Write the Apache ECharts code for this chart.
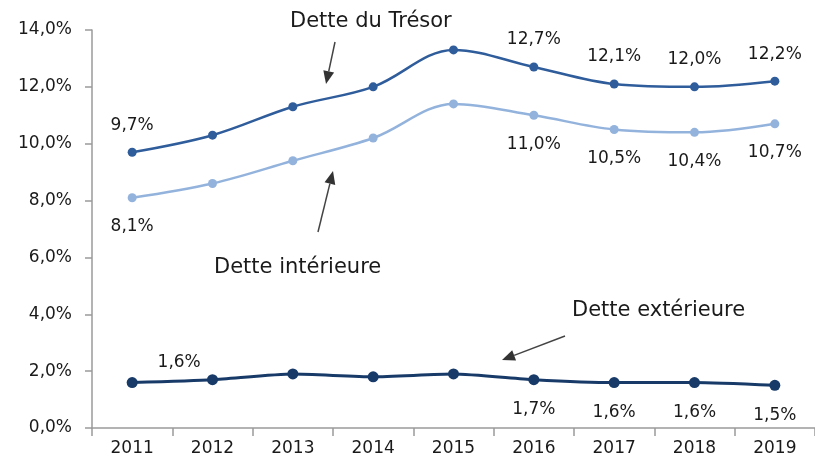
<!DOCTYPE html>
<html>
<head>
<meta charset="utf-8">
<script src="https://cdn.jsdelivr.net/npm/echarts@6/dist/echarts.min.js"></script>
<style>
  html, body { margin:0; padding:0; background:#fff; }
  #main { width:815px; height:462px; }
</style>
</head>
<body>
<div id="main"></div>
<script>
// données (% du PIB)
var annees = ['2011','2012','2013','2014','2015','2016','2017','2018','2019'];
var detteTresor = [9.7, 10.3, 11.3, 12.0, 13.3, 12.7, 12.1, 12.0, 12.2];
var detteInterieure = [8.1, 8.6, 9.4, 10.2, 11.4, 11.0, 10.5, 10.4, 10.7];
var detteExterieure = [1.6, 1.7, 1.9, 1.8, 1.9, 1.7, 1.6, 1.6, 1.5];
var yTicks = [0, 2, 4, 6, 8, 10, 12, 14];

var FONT = '"DejaVu Sans"';
function fmt(v){ return v.toFixed(1).replace('.', ',') + '%'; }

// quels points portent une étiquette
var labTresor = [1,0,0,0,0,1,1,1,1];
var labInterieure = [1,0,0,0,0,1,1,1,1];
var labExterieure = [1,0,0,0,0,1,1,1,1];

function buildData(values, flags, pos, dist, offsetFirst){
  return values.map(function(v, i){
    var item = { value: v };
    if(flags[i]){
      item.label = { show: true, position: pos, distance: dist };
      if(i === 0 && offsetFirst) item.label.offset = offsetFirst;
    }
    return item;
  });
}

var labelStyle = {
  formatter: function(p){ return fmt(p.value); },
  color: '#1a1a1a', fontFamily: FONT, fontSize: 17
};

function arrow(x1, y1, x2, y2){
  var a = Math.atan2(y2 - y1, x2 - x1);
  var L = 13, W = 5.5;
  var bx = x2 - L*Math.cos(a), by = y2 - L*Math.sin(a);
  var nx = -Math.sin(a), ny = Math.cos(a);
  return [{
    type: 'line', shape: {x1:x1, y1:y1, x2:bx, y2:by},
    style: {stroke:'#444', lineWidth:1.5}
  },{
    type: 'polygon',
    shape: {points: [[x2,y2],[bx+nx*W, by+ny*W],[bx-nx*W, by-ny*W]]},
    style: {fill:'#333'}
  }];
}

var chart = echarts.init(document.getElementById('main'));
var option = {
  animation: false,
  backgroundColor: '#fff',
  grid: { left: 92, top: 30, bottom: 34, width: 739 },
  xAxis: {
    type: 'category',
    data: annees,
    boundaryGap: true,
    axisLine: { lineStyle: { color: '#9a9a9a', width: 1.5 } },
    axisTick: { show: true, length: 8, lineStyle: { color: '#9a9a9a', width: 1.5 } },
    axisLabel: { color: '#1a1a1a', fontFamily: FONT, fontSize: 17, margin: 12 }
  },
  yAxis: {
    type: 'value',
    min: 0, max: 14, interval: 2,
    axisLine: { show: true, lineStyle: { color: '#9a9a9a', width: 1.5 } },
    axisTick: { show: true, length: 7, lineStyle: { color: '#9a9a9a', width: 1.5 } },
    splitLine: { show: false },
    axisLabel: {
      color: '#1a1a1a', fontFamily: FONT, fontSize: 17, margin: 20,
      formatter: function(v){ return yTicks.indexOf(v) >= 0 ? fmt(v) : ''; }
    }
  },
  series: [
    {
      name: 'Dette du Trésor', type: 'line', smooth: 0.35,
      data: buildData(detteTresor, labTresor, 'top', 14),
      symbol: 'circle', symbolSize: 9,
      lineStyle: { color: '#2f5c9b', width: 2.5 },
      itemStyle: { color: '#2f5c9b' },
      label: labelStyle
    },
    {
      name: 'Dette intérieure', type: 'line', smooth: 0.35,
      data: buildData(detteInterieure, labInterieure, 'bottom', 16),
      symbol: 'circle', symbolSize: 9,
      lineStyle: { color: '#93b3dd', width: 2.5 },
      itemStyle: { color: '#93b3dd' },
      label: labelStyle
    },
    {
      name: 'Dette extérieure', type: 'line', smooth: 0.2,
      data: buildData(detteExterieure, labExterieure, 'bottom', 16, [47, -50]),
      symbol: 'circle', symbolSize: 11,
      lineStyle: { color: '#173a68', width: 3 },
      itemStyle: { color: '#173a68' },
      label: labelStyle
    }
  ],
  graphic: [
    { type: 'text', left: 290, top: 11, style: { text: 'Dette du Trésor', fill: '#1a1a1a', font: '21px ' + FONT } },
    { type: 'text', left: 214, top: 257, style: { text: 'Dette intérieure', fill: '#1a1a1a', font: '21px ' + FONT } },
    { type: 'text', left: 572, top: 300, style: { text: 'Dette extérieure', fill: '#1a1a1a', font: '21px ' + FONT } }
  ]
  .concat(arrow(335, 42, 326, 84))
  .concat(arrow(318, 232, 333, 171))
  .concat(arrow(565, 336, 502, 360))
};
chart.setOption(option);
</script>
</body>
</html>
